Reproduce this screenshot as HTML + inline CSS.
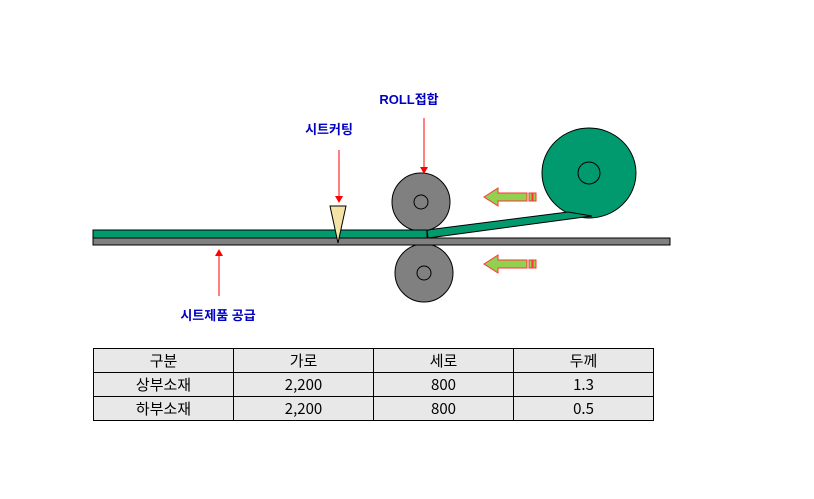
<!DOCTYPE html>
<html><head><meta charset="utf-8"><style>
body{margin:0;background:#fff;width:814px;height:499px;overflow:hidden;font-family:"Liberation Sans","Noto Sans CJK KR",sans-serif}
svg{position:absolute;left:0;top:0}
table{position:absolute;left:93px;top:348px;border-collapse:collapse;font-family:"Noto Sans CJK KR","NanumGothic",sans-serif;font-size:15px;color:#000}
td{width:139px;height:23px;border:1px solid #000;background:#e8e8e8;text-align:center;padding:0;line-height:23px}
</style></head><body>
<svg width="814" height="499" xmlns="http://www.w3.org/2000/svg">
<ellipse cx="589" cy="173" rx="47" ry="45" fill="#009a6e" stroke="#000"/>
<circle cx="589" cy="173" r="11" fill="none" stroke="#000"/>
<polygon points="427,230 568,212 592,216 428,238" fill="#009a6e" stroke="#000"/>
<circle cx="421" cy="202" r="29" fill="#808080" stroke="#000"/>
<circle cx="421" cy="202" r="7" fill="none" stroke="#000"/>
<circle cx="424" cy="273" r="29" fill="#808080" stroke="#000"/>
<circle cx="424" cy="273" r="7" fill="none" stroke="#000"/>
<rect x="93" y="230" width="334" height="8" fill="#009a6e" stroke="#000"/>
<rect x="93" y="238" width="577" height="7" fill="#808080" stroke="#000"/>
<polygon points="330,206 346,206 338,243" fill="#f3e3a4" stroke="#000"/>
<g fill="#92d050" stroke="#f33" stroke-width="1">
<polygon points="484,197 498,188 498,193 527,193 527,201 498,201 498,206"/>
<rect x="529" y="193" width="3" height="8"/><rect x="533" y="193" width="3" height="8"/>
<polygon points="484,264 498,255 498,260 527,260 527,268 498,268 498,273"/>
<rect x="529" y="260" width="3" height="8"/><rect x="533" y="260" width="3" height="8"/>
</g>
<g stroke="#f00" fill="#f00">
<line x1="339" y1="150" x2="339" y2="196"/><polygon points="335,196 343,196 339,203" stroke="none"/>
<line x1="424" y1="118" x2="424" y2="167"/><polygon points="420,167 428,167 424,174" stroke="none"/>
<line x1="219" y1="296" x2="219" y2="256"/><polygon points="215,256 223,256 219,249" stroke="none"/>
</g>
<g font-family="Liberation Sans,Noto Sans CJK KR,sans-serif" font-size="13" font-weight="bold" fill="#0000c0" text-anchor="middle">
<text x="409" y="104">ROLL접합</text>
<text x="329" y="134">시트커팅</text>
<text x="218" y="320">시트제품 공급</text>
</g>
</svg>
<table>
<tr><td>구분</td><td>가로</td><td>세로</td><td>두께</td></tr>
<tr><td>상부소재</td><td>2,200</td><td>800</td><td>1.3</td></tr>
<tr><td>하부소재</td><td>2,200</td><td>800</td><td>0.5</td></tr>
</table>
</body></html>
